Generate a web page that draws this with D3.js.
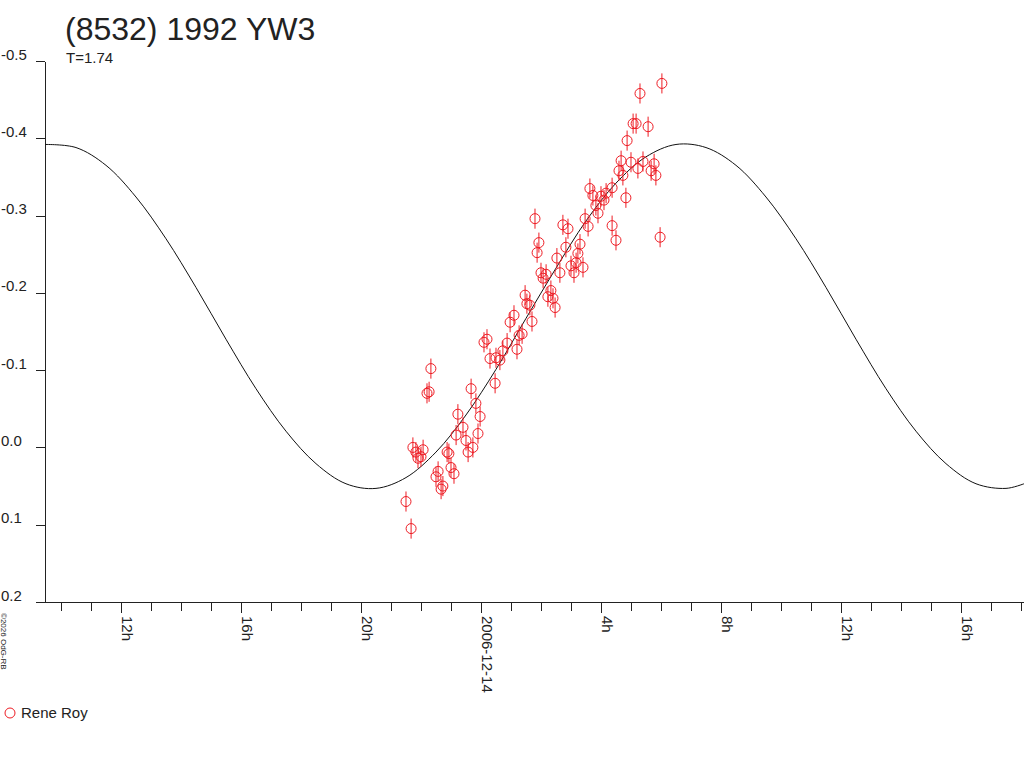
<!DOCTYPE html>
<html>
<head>
<meta charset="utf-8">
<script src="https://cdn.jsdelivr.net/npm/d3@7"></script>
<style>
  body { margin: 0; background: #fff; }
  svg { display: block; font-family: "Liberation Sans", Arial, sans-serif; }
</style>
</head>
<body>
<div id="chart"></div>
<script>
// observation times, hours from 2006-12-14 00:00 UT
var obsHours = [
  -2.50, -2.33, -2.27, -2.17, -2.10, -2.00, -1.93, -1.80, -1.73, -1.67,
  -1.50, -1.43, -1.33, -1.27, -1.13, -1.07, -1.00, -0.90, -0.83, -0.77,
  -0.60, -0.50, -0.43, -0.33, -0.27, -0.17, -0.10, -0.03, 0.10, 0.20,
  0.30, 0.47, 0.50, 0.63, 0.73, 0.87, 0.97, 1.10, 1.20, 1.27,
  1.37, 1.47, 1.53, 1.63, 1.70, 1.80, 1.87, 1.93, 2.00, 2.07,
  2.17, 2.23, 2.33, 2.40, 2.47, 2.53, 2.63, 2.73, 2.83, 2.90,
  3.00, 3.10, 3.17, 3.23, 3.30, 3.40, 3.47, 3.57, 3.63, 3.73,
  3.83, 3.90, 4.00, 4.10, 4.17, 4.37, 4.37, 4.50, 4.60, 4.67,
  4.73, 4.83, 4.87, 5.00, 5.07, 5.17, 5.23, 5.30, 5.40, 5.57,
  5.67, 5.77, 5.83, 5.97, 6.03
]
// relative magnitudes
var obsMag = [
  0.070, 0.105, 0.000, 0.006, 0.014, 0.012, 0.003, -0.070, -0.072, -0.102,
  0.038, 0.031, 0.054, 0.050, 0.006, 0.008, 0.026, 0.034, -0.016, -0.043,
  -0.026, -0.009, 0.006, -0.076, 0.000, -0.057, -0.018, -0.040, -0.136, -0.140,
  -0.115, -0.083, -0.116, -0.113, -0.125, -0.135, -0.162, -0.171, -0.127, -0.145,
  -0.147, -0.197, -0.186, -0.184, -0.163, -0.296, -0.252, -0.265, -0.226, -0.219,
  -0.224, -0.195, -0.203, -0.193, -0.181, -0.245, -0.226, -0.288, -0.259, -0.283,
  -0.235, -0.226, -0.239, -0.251, -0.263, -0.233, -0.296, -0.286, -0.335, -0.326,
  -0.313, -0.303, -0.325, -0.320, -0.329, -0.336, -0.287, -0.268, -0.358, -0.371,
  -0.352, -0.323, -0.397, -0.369, -0.419, -0.419, -0.361, -0.458, -0.370, -0.415,
  -0.358, -0.367, -0.352, -0.272, -0.471
]
var obsErr = 0.013

// fitted lightcurve
var curveHours = [
  -14.53, -13.5, -12.5, -11.5, -10.5, -9.5, -8.5, -7.5, -6.5, -5.5,
  -4.5, -3.5, -2.5, -1.5, -0.5, 0.5, 1.5, 2.5, 3.5, 4.5,
  5.5, 6.5, 7.5, 8.5, 9.5, 10.5, 11.5, 12.5, 13.5, 14.5,
  15.5, 16.5, 17.5, 18.1
]
var curveMag = [
  -0.392, -0.388, -0.365, -0.324, -0.270, -0.207, -0.140, -0.076, -0.021, 0.021,
  0.047, 0.053, 0.039, 0.006, -0.042, -0.101, -0.167, -0.232, -0.293, -0.342,
  -0.376, -0.392, -0.388, -0.365, -0.324, -0.270, -0.207, -0.140, -0.076, -0.021,
  0.021, 0.047, 0.053, 0.047
]

var magTicks = [-0.5, -0.4, -0.3, -0.2, -0.1, 0.0, 0.1, 0.2]
var tickHours = [-12, -8, -4, 0, 4, 8, 12, 16]
var tickLabels = ["12h", "16h", "20h", "2006-12-14", "4h", "8h", "12h", "16h"]

var title = "(8532) 1992 YW3"
var subtitle = "T=1.74"
var observer = "Rene Roy"

var width = 1024
var height = 768
var red = "#ee1c24"
var ink = "#222"

var base = Date.UTC(2006, 11, 14)
function toDate(h) { return new Date(base + h * 3600e3) }

var x = d3.scaleUtc()
  .domain([toDate(-14.533), toDate(18.1)])
  .range([45, 1024])

var y = d3.scaleLinear()
  .domain([-0.5, 0.2])
  .range([61, 602])

var svg = d3.select("#chart").append("svg")
  .attr("width", width)
  .attr("height", height)

// y axis
var yAxis = svg.append("g")
  .attr("transform", "translate(45,0)")
  .call(d3.axisLeft(y).tickValues(magTicks).tickSize(9).tickSizeOuter(0)
    .tickFormat(d3.format(".1f")))
yAxis.selectAll("path, line").attr("stroke", ink).attr("shape-rendering", "crispEdges")
yAxis.selectAll("text")
  .attr("x", -44).attr("dy", -2)
  .attr("text-anchor", "start")
  .attr("font-size", 15).attr("font-family", null)
  .attr("fill", ink)
  .text(function (d) { return d3.format(".1f")(d).replace("\u2212", "-") })

// x axis: hourly minor ticks
var minor = svg.append("g")
  .attr("transform", "translate(0,602)")
  .call(d3.axisBottom(x).ticks(d3.utcHour.every(1)).tickSize(9).tickSizeOuter(0)
    .tickFormat(""))
minor.select(".domain").remove()
minor.selectAll("line").attr("stroke", ink).attr("shape-rendering", "crispEdges")

var major = svg.append("g")
  .attr("transform", "translate(0,602)")
  .call(d3.axisBottom(x).tickValues(tickHours.map(toDate)).tickSize(11).tickSizeOuter(0)
    .tickFormat(function (d, i) { return tickLabels[i] }))
major.select(".domain").remove()
major.selectAll("line").attr("stroke", ink).attr("shape-rendering", "crispEdges")
major.selectAll("text")
  .attr("y", 0).attr("dy", null)
  .attr("transform", "translate(1,14) rotate(90)")
  .attr("text-anchor", "start")
  .attr("font-size", 15).attr("font-family", null)
  .attr("fill", ink)

svg.append("line")
  .attr("x1", 36).attr("x2", 1024)
  .attr("y1", 602.5).attr("y2", 602.5)
  .attr("stroke", ink)

// fitted curve
var line = d3.line()
  .x(function (d, i) { return x(toDate(curveHours[i])) })
  .y(function (d) { return y(d) })
  .curve(d3.curveCatmullRom)

svg.append("path")
  .datum(curveMag)
  .attr("d", line)
  .attr("fill", "none")
  .attr("stroke", "#111")
  .attr("stroke-width", 1)

// observations
var pts = svg.append("g").selectAll("g")
  .data(obsMag)
  .enter().append("g")

pts.append("line")
  .attr("x1", function (d, i) { return x(toDate(obsHours[i])) })
  .attr("x2", function (d, i) { return x(toDate(obsHours[i])) })
  .attr("y1", function (d) { return y(d - obsErr) })
  .attr("y2", function (d) { return y(d + obsErr) })
  .attr("stroke", red)

pts.append("circle")
  .attr("cx", function (d, i) { return x(toDate(obsHours[i])) })
  .attr("cy", function (d) { return y(d) })
  .attr("r", 5)
  .attr("fill", "none")
  .attr("stroke", red)

// texts
svg.append("text")
  .attr("x", 65).attr("y", 40)
  .attr("font-size", 32)
  .attr("fill", ink)
  .text(title)

svg.append("text")
  .attr("x", 66).attr("y", 63)
  .attr("font-size", 15)
  .attr("fill", ink)
  .text(subtitle)

svg.append("text")
  .attr("transform", "translate(1,613) rotate(90)")
  .attr("font-size", 8)
  .attr("fill", ink)
  .text("\u00a92026 OdG-RB")

svg.append("circle")
  .attr("cx", 10).attr("cy", 713)
  .attr("r", 5)
  .attr("fill", "none")
  .attr("stroke", red)

svg.append("text")
  .attr("x", 21).attr("y", 718)
  .attr("font-size", 15)
  .attr("fill", ink)
  .text(observer)
</script>
</body>
</html>
